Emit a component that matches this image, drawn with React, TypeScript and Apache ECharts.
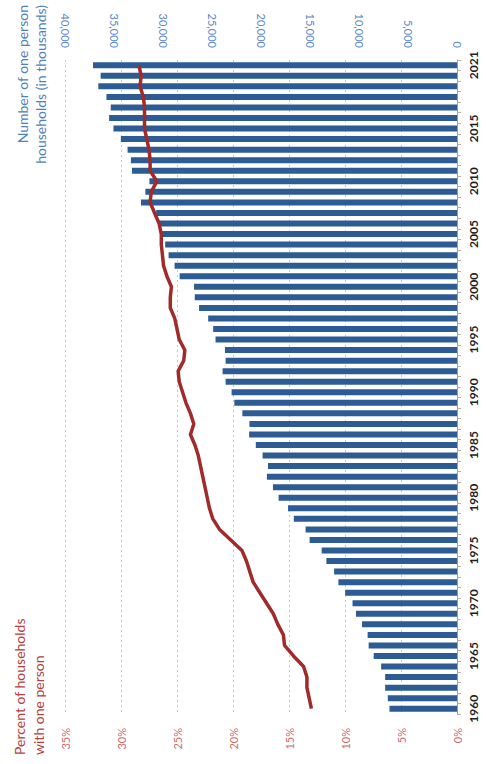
import React, { useEffect, useRef } from "react";
import * as echarts from "echarts";

const years: string[] = [];
for (let y = 1960; y <= 2021; y++) years.push(String(y));

const labelYears: string[] = [
  "1960", "1965", "1970", "1975", "1980", "1985", "1990",
  "1995", "2000", "2005", "2010", "2015", "2021",
];

// Number of one person households (thousands), 1960..2021
const households: number[] = [
  6890, 7060, 7330, 7330, 7740, 8500, 9015, 9120, 9690, 10310,
  10660, 11410, 12100, 12540, 13330, 13810, 15040, 15450, 16650, 17240,
  18200, 18780, 19400, 19290, 19840, 20530, 21210, 21180, 21900, 22720,
  23000, 23610, 23920, 23610, 23680, 24640, 24880, 25390, 26320, 26760,
  26830, 28300, 28820, 29430, 29780, 30190, 30400, 30700, 32250, 31800,
  31390, 33170, 33275, 33615, 34300, 35055, 35500, 35330, 35770, 36600,
  36360, 37140,
];

// Percent of households with one person, 1960..2021
const percent: number[] = [
  13.0, 13.2, 13.4, 13.4, 13.7, 14.6, 15.4, 15.5, 16.0, 16.4,
  17.0, 17.6, 18.2, 18.5, 18.8, 19.2, 20.2, 21.2, 21.8, 22.1,
  22.3, 22.5, 22.7, 22.9, 23.1, 23.4, 23.8, 23.5, 23.8, 24.2,
  24.5, 24.8, 24.9, 24.4, 24.3, 24.8, 25.0, 25.2, 25.6, 25.6,
  25.5, 25.9, 26.2, 26.3, 26.4, 26.4, 26.6, 27.0, 27.4, 27.3,
  26.8, 27.4, 27.4, 27.5, 27.7, 27.9, 27.9, 27.9, 28.0, 28.3,
  28.2, 28.4,
];

const countTicks = { min: 0, max: 40000, interval: 5000 };
const pctTicks = { min: 0, max: 35, interval: 5 };

const FONT = "Lato, 'Open Sans', sans-serif";

export default function App() {
  const ref = useRef<HTMLDivElement>(null);
  useEffect(() => {
    if (!ref.current) return;
    const chart = echarts.init(ref.current, null, { renderer: "svg" });
    chart.setOption({
      animation: false,
      backgroundColor: "#ffffff",
      grid: { left: 65, right: 29, top: 60, bottom: 50, containLabel: false },
      xAxis: [
        {
          type: "value",
          position: "top",
          inverse: true,
          min: countTicks.min,
          max: countTicks.max,
          interval: countTicks.interval,
          axisLine: { show: false },
          axisTick: { show: false },
          splitLine: { show: false },
          axisLabel: {
            rotate: 90,
            margin: 12,
            color: "#5b87c5",
            fontSize: 11,
            fontFamily: FONT,
            formatter: (v: number) => v.toLocaleString("en-US"),
          },
        },
        {
          type: "value",
          position: "bottom",
          inverse: true,
          min: pctTicks.min,
          max: pctTicks.max,
          interval: pctTicks.interval,
          axisLine: { show: false },
          axisTick: { show: false },
          splitLine: {
            show: true,
            lineStyle: { color: "#c8c8c8", type: [2, 3], width: 1 },
          },
          axisLabel: {
            rotate: 90,
            margin: 14,
            color: "#cc6b68",
            fontSize: 11,
            fontFamily: FONT,
            formatter: "{value}%",
          },
        },
      ],
      yAxis: {
        type: "category",
        position: "right",
        data: years,
        axisLine: { show: true, lineStyle: { color: "#9a9a9a", width: 1 } },
        axisTick: {
          show: true,
          interval: 0,
          length: 4,
          lineStyle: { color: "#b0b0b0" },
        },
        axisLabel: {
          rotate: 90,
          margin: 10,
          color: "#1e1e1e",
          fontWeight: "bold",
          fontSize: 12,
          fontFamily: FONT,
          interval: (_i: number, v: string) => labelYears.indexOf(v) >= 0,
        },
        splitLine: { show: false },
      },
      series: [
        {
          type: "bar",
          name: "Number of one person households",
          xAxisIndex: 0,
          data: households,
          barWidth: 6,
          itemStyle: { color: "#2d5b94" },
        },
        {
          type: "line",
          name: "Percent of households with one person",
          xAxisIndex: 1,
          data: percent,
          showSymbol: false,
          symbol: "none",
          lineStyle: { color: "#a02b2b", width: 3.5 },
          z: 5,
        },
      ],
      graphic: [
        {
          type: "text",
          x: 19,
          y: 755,
          rotation: Math.PI / 2,
          style: {
            text: "Percent of households",
            fill: "#b5403d",
            font: `14px ${FONT}`,
            align: "left",
            verticalAlign: "middle",
            textAlign: "left",
            textVerticalAlign: "middle",
          },
        },
        {
          type: "text",
          x: 38,
          y: 755,
          rotation: Math.PI / 2,
          style: {
            text: "with one person",
            fill: "#b5403d",
            font: `14px ${FONT}`,
            align: "left",
            verticalAlign: "middle",
            textAlign: "left",
            textVerticalAlign: "middle",
          },
        },
        {
          type: "text",
          x: 22,
          y: 5,
          rotation: Math.PI / 2,
          style: {
            text: "Number of one person",
            fill: "#4f81bd",
            font: `14px ${FONT}`,
            align: "right",
            verticalAlign: "middle",
            textAlign: "right",
            textVerticalAlign: "middle",
          },
        },
        {
          type: "text",
          x: 40,
          y: 5,
          rotation: Math.PI / 2,
          style: {
            text: "households (in thousands)",
            fill: "#4f81bd",
            font: `14px ${FONT}`,
            align: "right",
            verticalAlign: "middle",
            textAlign: "right",
            textVerticalAlign: "middle",
          },
        },
      ],
    });
    return () => chart.dispose();
  }, []);
  return (
    <div
      ref={ref}
      style={{ position: "fixed", left: 0, top: 0, width: 486, height: 764 }}
    />
  );
}
